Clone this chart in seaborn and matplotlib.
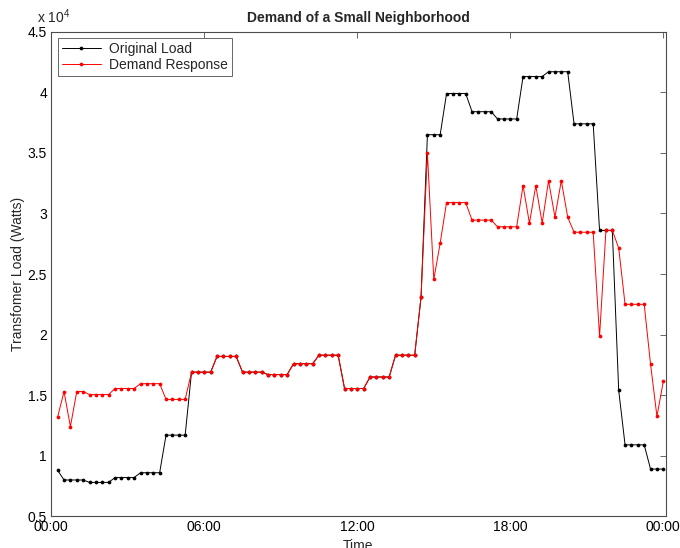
import numpy as np
import pandas as pd
import matplotlib
matplotlib.use("Agg")
import matplotlib.pyplot as plt
import matplotlib.dates as mdates
from matplotlib.ticker import FuncFormatter
import seaborn as sns

# 15-minute samples, one row per hour block (values in Watts)
original_load = [
    8800, 8000, 8000, 8000, 8000, 7800, 7800, 7800, 7800, 8200, 8200, 8200,
    8200, 8600, 8600, 8600, 8600, 11700, 11700, 11700, 11700, 16900, 16900, 16900,
    16900, 18200, 18200, 18200, 18200, 16900, 16900, 16900, 16900, 16700, 16700, 16700,
    16700, 17600, 17600, 17600, 17600, 18300, 18300, 18300, 18300, 15550, 15550, 15550,
    15550, 16500, 16500, 16500, 16500, 18300, 18300, 18300, 18300, 23100, 36500, 36500,
    36500, 39900, 39900, 39900, 39900, 38400, 38400, 38400, 38400, 37800, 37800, 37800,
    37800, 41300, 41300, 41300, 41300, 41700, 41700, 41700, 41700, 37400, 37400, 37400,
    37400, 28600, 28600, 28600, 15400, 10900, 10900, 10900, 10900, 8900, 8900, 8900,
]
demand_response = [
    13200, 15300, 12400, 15300, 15300, 15050, 15050, 15050, 15050, 15550, 15550, 15550,
    15550, 15950, 15950, 15950, 15950, 14650, 14650, 14650, 14650, 16900, 16900, 16900,
    16900, 18200, 18200, 18200, 18200, 16900, 16900, 16900, 16900, 16700, 16700, 16700,
    16700, 17600, 17600, 17600, 17600, 18300, 18300, 18300, 18300, 15550, 15550, 15550,
    15550, 16500, 16500, 16500, 16500, 18300, 18300, 18300, 18300, 23100, 35000, 24550,
    27550, 30900, 30900, 30900, 30900, 29450, 29450, 29450, 29450, 28900, 28900, 28900,
    28900, 32300, 29200, 32300, 29200, 32700, 29700, 32700, 29700, 28450, 28450, 28450,
    28450, 19850, 28600, 28600, 27150, 22500, 22500, 22500, 22500, 17550, 13250, 16150,
]
times = pd.date_range("2000-01-01 00:15", periods=len(original_load), freq="15min")

y_ticks = [5000, 10000, 15000, 20000, 25000, 30000, 35000, 40000, 45000]
x_tick_hours = [0, 6, 12, 18]

df = pd.DataFrame({"time": times, "orig": original_load, "dr": demand_response})

sns.set_theme(style="white")
plt.rcParams["font.family"] = ["Liberation Sans", "DejaVu Sans"]
plt.rcParams["mathtext.default"] = "regular"
plt.rcParams["xtick.direction"] = "in"
plt.rcParams["ytick.direction"] = "in"

fig = plt.figure(figsize=(6.8, 5.48), dpi=100)
ax = fig.add_axes([0.0754, 0.0578, 0.9035, 0.8843])

sns.lineplot(data=df, x="time", y="orig", ax=ax, color="black", lw=0.7,
             marker="o", markersize=2.7, markeredgewidth=0, label="Original Load")
sns.lineplot(data=df, x="time", y="dr", ax=ax, color="red", lw=0.7,
             marker="o", markersize=2.7, markeredgewidth=0, label="Demand Response")

ax.set_xlim(pd.Timestamp("2000-01-01 00:00"), pd.Timestamp("2000-01-02 00:05:30"))
ax.set_ylim(5000, 45000)
ax.set_yticks(y_ticks)
ax.yaxis.set_major_formatter(FuncFormatter(lambda v, p: f"{v / 1e4:g}"))
ax.xaxis.set_major_locator(mdates.HourLocator(byhour=x_tick_hours))
ax.xaxis.set_major_formatter(mdates.DateFormatter("%H:%M"))

ax.tick_params(axis="both", which="both", direction="in", length=4, width=0.6,
               color="0.3", labelsize=10, labelcolor="black", pad=3,
               top=True, right=True)
for s in ax.spines.values():
    s.set_color("0.3")
    s.set_linewidth(0.8)

ax.set_title("Demand of a Small Neighborhood", fontsize=10, fontweight="bold", pad=7)
ax.set_xlabel("Time", fontsize=10, labelpad=3)
ax.set_ylabel("Transfomer Load (Watts)", fontsize=10, labelpad=2)
fig.text(0.055, 0.953, r"x 10$^{4}$", fontsize=10, ha="left", va="bottom")

leg = ax.legend(loc="upper left", fontsize=10, frameon=True, fancybox=False,
                edgecolor="0.3", framealpha=1, handlelength=2.8,
                borderaxespad=0.45, borderpad=0.3, labelspacing=0.15,
                handletextpad=0.6)
leg.get_frame().set_linewidth(0.6)

fig.savefig("out.png", dpi=100, facecolor="white")
